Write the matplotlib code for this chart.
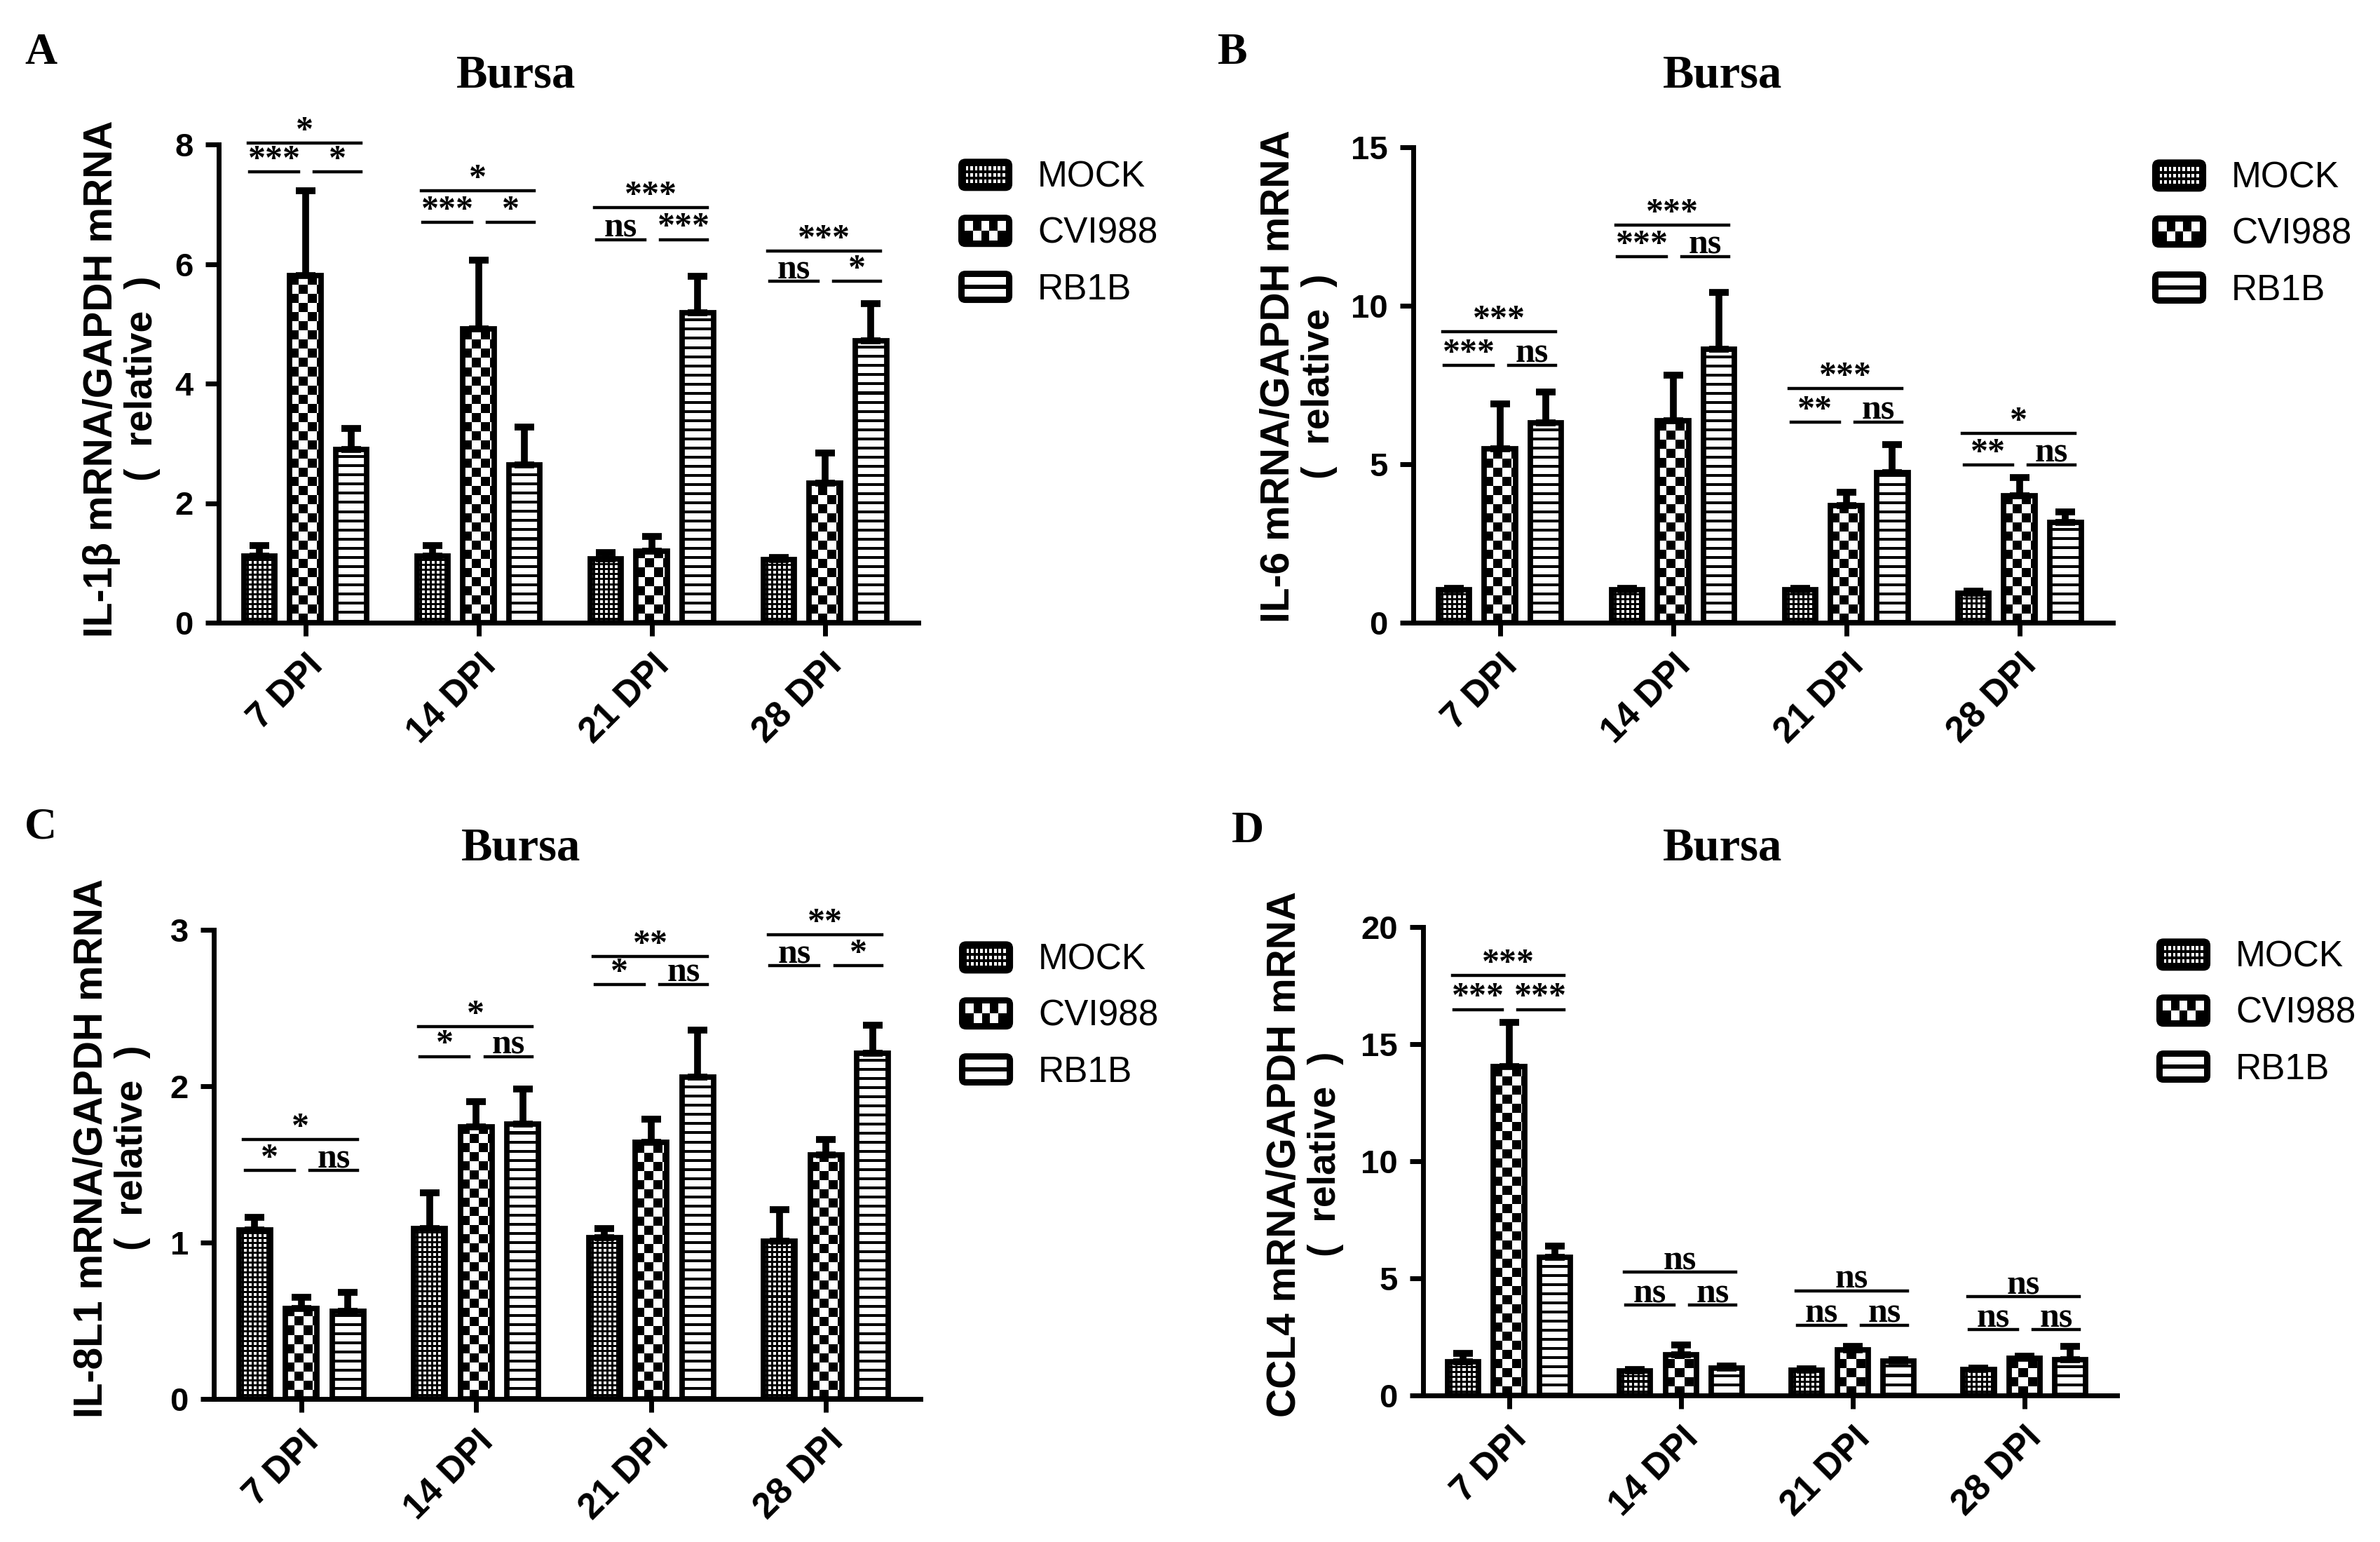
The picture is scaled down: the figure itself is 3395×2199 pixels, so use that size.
import matplotlib
matplotlib.use("Agg")
import matplotlib.pyplot as plt
import numpy as np
from matplotlib.legend_handler import HandlerBase
from matplotlib.patches import FancyBboxPatch, Patch, Rectangle

W, H, DPI = 3395, 2199, 200

days = ["7 DPI", "14 DPI", "21 DPI", "28 DPI"]
groups = ["MOCK", "CVI988", "RB1B"]

# IL-1b
il1b_mean = [[1.11, 1.11, 1.07, 1.05], [5.81, 4.92, 1.20, 2.33], [2.90, 2.64, 5.19, 4.72]]
il1b_sd = [[0.18, 0.18, 0.10, 0.04], [1.42, 1.14, 0.24, 0.51], [0.35, 0.63, 0.60, 0.62]]
il1b_sig = [("*", "***", "*"), ("*", "***", "*"), ("***", "ns", "***"), ("***", "ns", "*")]
il1b_sig_y = [(8.02, 7.54), (7.22, 6.70), (6.94, 6.41), (6.22, 5.71)]

# IL-6
il6_mean = [[1.03, 1.03, 1.03, 0.93], [5.48, 6.38, 3.69, 4.00], [6.30, 8.62, 4.73, 3.17]]
il6_sd = [[0.06, 0.06, 0.06, 0.07], [1.43, 1.43, 0.43, 0.57], [0.97, 1.79, 0.90, 0.32]]
il6_sig = [("***", "***", "ns"), ("***", "***", "ns"), ("***", "**", "ns"), ("*", "**", "ns")]
il6_sig_y = [(9.18, 8.12), (12.54, 11.55), (7.38, 6.33), (5.97, 4.98)]

# IL-8L1
il8_mean = [[1.08, 1.09, 1.03, 1.01], [0.58, 1.74, 1.64, 1.56], [0.56, 1.76, 2.06, 2.21]]
il8_sd = [[0.08, 0.23, 0.06, 0.20], [0.07, 0.16, 0.15, 0.10], [0.12, 0.22, 0.30, 0.18]]
il8_sig = [("*", "*", "ns"), ("*", "*", "ns"), ("**", "*", "ns"), ("**", "ns", "*")]
il8_sig_y = [(1.66, 1.46), (2.38, 2.19), (2.83, 2.65), (2.97, 2.77)]

# CCL4
ccl4_mean = [[1.43, 1.05, 1.09, 1.12], [14.04, 1.73, 1.96, 1.58], [5.89, 1.16, 1.47, 1.54]]
ccl4_sd = [[0.36, 0.06, 0.06, 0.06], [1.90, 0.44, 0.14, 0.10], [0.49, 0.10, 0.07, 0.57]]
ccl4_sig = [("***", "***", "***"), ("ns", "ns", "ns"), ("ns", "ns", "ns"), ("ns", "ns", "ns")]
ccl4_sig_y = [(17.94, 16.48), (5.26, 3.85), (4.46, 2.99), (4.21, 2.80)]

SANS = ["Liberation Sans", "DejaVu Sans"]
SERIF = ["Liberation Serif", "DejaVu Serif"]
BW, SP = 0.18, 0.266


def pattern(kind, w, h):
    yy, xx = np.mgrid[0:h, 0:w]
    if kind == 0:
        white = (yy % 7 < 4) & (xx % 7 < 4)
    elif kind == 1:
        white = ((yy // 13) + (xx // 13)) % 2 == 0
    else:
        white = yy % 13 >= 4
    return white.astype(float)


class PatternHandler(HandlerBase):
    def __init__(self, kind):
        super().__init__()
        self.kind = kind

    def create_artists(self, legend, orig_handle, xdescent, ydescent, width, height, fontsize, trans):
        x0, y0 = -xdescent, -ydescent
        arts = [FancyBboxPatch((x0, y0), width, height,
                               boxstyle=f"round,pad=0,rounding_size={height * 0.22}",
                               fc="black", ec="black", lw=0, transform=trans)]
        m = height * 0.2
        ix, iy, iw, ih = x0 + m, y0 + m, width - 2 * m, height - 2 * m
        if self.kind == 0:
            nx, ny = 9, 3
            cw, ch = iw / nx, ih / ny
            for i in range(nx):
                for j in range(ny):
                    arts.append(Rectangle((ix + i * cw + cw * 0.2, iy + j * ch + ch * 0.2),
                                          cw * 0.6, ch * 0.6, fc="white", lw=0, transform=trans))
        elif self.kind == 1:
            nx, ny = 5, 2
            cw, ch = iw / nx, ih / ny
            for i in range(nx):
                for j in range(ny):
                    if (i + j) % 2 == 1:
                        arts.append(Rectangle((ix + i * cw, iy + j * ch), cw, ch,
                                              fc="white", lw=0, transform=trans))
        else:
            arts.append(Rectangle((ix, iy), iw, ih * 0.38, fc="white", lw=0, transform=trans))
            arts.append(Rectangle((ix, iy + ih * 0.62), iw, ih * 0.38, fc="white", lw=0, transform=trans))
        return arts


fig = plt.figure(figsize=(W / DPI, H / DPI), dpi=DPI)


def px(x, y):
    return x / W, 1 - y / H


def draw_panel(rect, letter, letter_xy, title_xy, ylab, ylab_xy, means, sds, sig, sig_y,
               ymax, yticks, leg_xy):
    ax = fig.add_axes(rect)
    x = np.arange(len(days))
    ax.set_xlim(-0.5, 3.54)
    ax.set_ylim(0, ymax)
    inv = ax.transData.inverted()
    for k in range(3):
        xs = x + (k - 1) * SP
        bars = ax.bar(xs, means[k], width=BW, color="white", edgecolor="none", zorder=2)
        for b in bars:
            x0, x1, y1 = b.get_x(), b.get_x() + b.get_width(), b.get_height()
            p0 = ax.transData.transform((x0, 0))
            p1 = ax.transData.transform((x1, y1))
            wpx = int(round(p1[0] - p0[0])) + 1
            hpx = int(round(p1[1] - p0[1])) + 1
            right, top = inv.transform((p0[0] + wpx, p0[1] + hpx))
            im = ax.imshow(pattern(k, wpx, hpx), cmap="gray", vmin=0, vmax=1,
                           extent=(x0, right, 0, top), origin="lower",
                           interpolation="nearest", aspect="auto", zorder=3)
            im.set_clip_path(b)
        ax.errorbar(xs, means[k], yerr=[np.zeros(len(days)), sds[k]], fmt="none",
                    ecolor="black", elinewidth=3.5, capsize=5, capthick=3.5, zorder=3.5)
        ax.bar(xs, means[k], width=BW, fill=False, edgecolor="black", linewidth=2.8, zorder=4)

    # significance brackets
    for i, (labels, (ytop, ylow)) in enumerate(zip(sig, sig_y)):
        segs = [((i - 0.33, i + 0.32), ytop, labels[0]),
                ((i - 0.32, i - 0.04), ylow, labels[1]),
                ((i + 0.05, i + 0.32), ylow, labels[2])]
        for (xa, xb), yv, lab in segs:
            ax.plot([xa, xb], [yv, yv], color="black", lw=1.6, clip_on=False, zorder=5)
            ax.annotate(lab, xy=((xa + xb) / 2, yv), xytext=(0, 1.5), textcoords="offset points",
                        ha="center", va="baseline", family=SERIF, fontweight="bold",
                        fontsize=18, annotation_clip=False)

    ax.set_xlim(-0.5, 3.54)
    ax.set_ylim(0, ymax)
    ax.set_yticks(yticks)
    ax.set_xticks(x)
    ax.set_xticklabels(days, rotation=45, ha="right", rotation_mode="anchor")
    for lab in ax.get_xticklabels():
        lab.set_family(SANS)
        lab.set_fontweight("bold")
        lab.set_fontsize(18.5)
    for lab in ax.get_yticklabels():
        lab.set_family(SANS)
        lab.set_fontweight("bold")
        lab.set_fontsize(17)
    ax.tick_params(axis="both", direction="out", length=7, width=2.5, pad=6)
    ax.spines["top"].set_visible(False)
    ax.spines["right"].set_visible(False)
    ax.spines["left"].set_linewidth(2.5)
    ax.spines["bottom"].set_linewidth(2.5)

    lx, ly = ylab_xy
    fig.text(*px(lx, ly), ylab, rotation=90, ha="center", va="center",
             fontsize=20.5, fontweight="bold", family=SANS)
    fig.text(*px(lx + 58, ly), "(  relative  )", rotation=90, ha="center", va="center",
             fontsize=20, fontweight="bold", family=SANS)
    fig.text(*px(*title_xy), "Bursa", ha="center", va="center", family=SERIF,
             fontweight="bold", fontsize=24)
    fig.text(*px(*letter_xy), letter, ha="center", va="center", family=SERIF,
             fontweight="bold", fontsize=23)

    handles = [Patch(label=g) for g in groups]
    ax.legend(handles=handles, handler_map={h: PatternHandler(k) for k, h in enumerate(handles)},
              loc="center left", bbox_to_anchor=px(*leg_xy), bbox_transform=fig.transFigure,
              frameon=False, borderpad=0, borderaxespad=0, handlelength=1.5, handleheight=1.0,
              handletextpad=0.7, labelspacing=0.55, prop={"family": "Liberation Sans", "size": 18.5})


draw_panel([312 / W, 1 - 888 / H, 998 / W, 682 / H], "A", (58, 76), (736, 108),
           "IL-1β mRNA/GAPDH mRNA", (145, 540), il1b_mean, il1b_sd, il1b_sig, il1b_sig_y,
           8, [0, 2, 4, 6, 8], (1367, 332))
draw_panel([2016 / W, 1 - 888 / H, 998 / W, 678 / H], "B", (1758, 76), (2457, 108),
           "IL-6 mRNA/GAPDH mRNA", (1824, 537), il6_mean, il6_sd, il6_sig, il6_sig_y,
           15, [0, 5, 10, 15], (3070, 333))
draw_panel([305 / W, 1 - 1995 / H, 1008 / W, 669 / H], "C", (58, 1180), (743, 1210),
           "IL-8L1 mRNA/GAPDH mRNA", (131, 1637), il8_mean, il8_sd, il8_sig, il8_sig_y,
           3, [0, 1, 2, 3], (1368, 1448))
draw_panel([2030 / W, 1 - 1990 / H, 990 / W, 668 / H], "D", (1780, 1186), (2457, 1210),
           "CCL4 mRNA/GAPDH mRNA", (1833, 1646), ccl4_mean, ccl4_sd, ccl4_sig, ccl4_sig_y,
           20, [0, 5, 10, 15, 20], (3076, 1444))

fig.savefig("out.png", dpi=DPI)
